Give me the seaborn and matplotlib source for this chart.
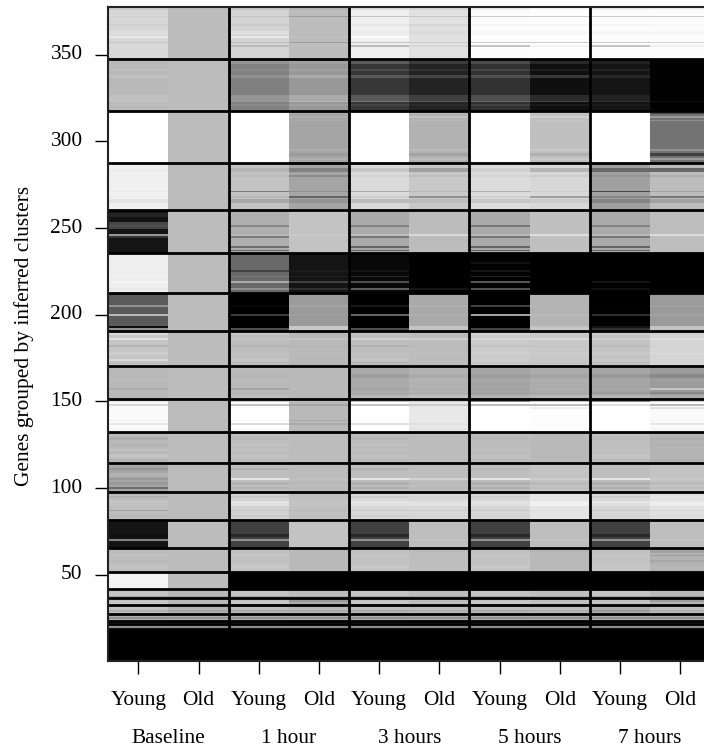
import numpy as np
import pandas as pd
import seaborn as sns
import matplotlib
matplotlib.use('Agg')
import matplotlib.pyplot as plt

# gene counts per inferred cluster, top of the heatmap first
cluster_sizes = [30, 30, 30, 27, 25, 23, 22, 20, 19, 19, 18, 17, 16, 16, 14, 10, 5, 4, 5, 4, 2, 3, 18]
arms = ['Young', 'Old'] * 5
timepoints = ['Baseline', '1 hour', '3 hours', '5 hours', '7 hours']
gene_ticks = [50, 100, 150, 200, 250, 300, 350]

# grey level of each cluster per column (0 black, 255 white)
cluster_base = [
    [215, 188, 212, 188, 240, 225, 252, 253, 252, 252],
    [185, 188, 128, 152, 55, 35, 50, 15, 20, 2],
    [255, 188, 255, 165, 255, 178, 255, 192, 255, 115],
    [240, 188, 195, 165, 218, 200, 220, 215, 160, 188],
    [20, 188, 175, 195, 170, 188, 170, 192, 170, 190],
    [238, 188, 105, 20, 8, 0, 2, 0, 0, 0],
    [90, 188, 0, 155, 0, 170, 0, 180, 0, 155],
    [198, 188, 190, 185, 190, 188, 203, 200, 195, 213],
    [185, 188, 185, 185, 170, 178, 165, 172, 165, 155],
    [250, 188, 255, 185, 255, 232, 255, 253, 255, 250],
    [185, 188, 190, 188, 188, 188, 188, 185, 190, 180],
    [165, 188, 190, 188, 190, 190, 190, 195, 190, 195],
    [190, 188, 210, 192, 215, 215, 215, 228, 215, 225],
    [20, 188, 65, 195, 65, 190, 65, 190, 65, 190],
    [190, 188, 195, 185, 195, 190, 195, 185, 195, 178],
    [245, 188, 0, 0, 0, 0, 0, 0, 0, 0],
    [195, 185, 195, 188, 195, 188, 195, 190, 195, 185],
    [200, 185, 200, 172, 200, 190, 200, 192, 195, 180],
    [195, 180, 190, 185, 190, 190, 190, 190, 175, 190],
    [175, 175, 175, 175, 175, 175, 175, 175, 175, 175],
    [110, 110, 110, 110, 110, 110, 110, 110, 110, 110],
    [140, 140, 140, 140, 140, 140, 140, 140, 140, 140],
    [0, 0, 0, 0, 0, 0, 0, 0, 0, 0],
]

# bands of genes inside each cluster: first row, number of rows, shift per column
cluster_bands = [
    [(0, 2, [-10, 0, -15, -5, -20, -10, -15, -5, -15, -8]),
     (5, 1, [-8, 0, -15, -30, -45, -25, -50, -50, -50, -50]),
     (10, 1, [-8, 0, -10, 0, -10, -12, -8, -8, -8, -5]),
     (14, 2, [8, 0, 10, 0, -5, -5, -5, -5, -5, -5]),
     (17, 1, [20, 0, 22, 3, 12, 0, 3, 2, 0, 0]),
     (20, 1, [-15, 0, -25, -30, -45, -22, -50, -50, -50, -40]),
     (22, 1, [3, 0, -25, 3, -55, -10, -55, -10, -55, -12])],
    [(0, 3, [0, 0, 20, 8, 35, 25, 25, 25, 12, 0]),
     (6, 1, [5, 0, 10, 10, 20, 15, 20, 15, 15, 0]),
     (9, 2, [8, 0, 15, 18, 35, 35, 30, 40, 20, 0]),
     (21, 3, [8, 0, 20, 18, 35, 28, 28, 28, 15, 0]),
     (24, 1, [12, 0, 25, 30, 65, 55, 50, 55, 28, 12]),
     (26, 1, [5, 0, 10, 10, 15, 10, 15, 10, 5, 0])],
    [(0, 1, [0, 0, 0, 8, 0, 12, 0, 12, 0, 25]),
     (1, 1, [0, 0, 0, 5, 0, 5, 0, 5, 0, -40]),
     (3, 1, [0, 0, 0, 10, 0, 15, 0, 15, 0, 40]),
     (5, 1, [0, 0, 0, 5, 0, 5, 0, 5, 0, 25]),
     (22, 1, [0, 0, 0, 8, 0, 8, 0, 8, 0, 30]),
     (24, 2, [0, 0, 0, -10, 0, -15, 0, -15, 0, -50]),
     (27, 1, [0, 0, 0, 10, 0, 10, 0, 10, 0, 40])],
    [(0, 1, [5, 0, 5, 0, 5, 0, 5, 0, -25, -5]),
     (3, 2, [-3, 0, -15, -35, -20, -40, -12, -35, -55, -85]),
     (7, 1, [-3, 0, -8, -25, -8, -12, -8, -12, -10, -15]),
     (16, 1, [-8, 0, -70, -20, -50, -15, -45, -12, -90, -25]),
     (19, 1, [-3, 0, -12, -65, -12, -55, -12, -55, -25, -70]),
     (21, 2, [-12, 0, -28, -18, -30, -12, -22, -12, -28, -28])],
    [(2, 2, [15, 0, 0, 0, 0, 0, 0, 0, 0, 0]),
     (7, 4, [50, 0, 0, 0, 0, 0, 0, 0, 0, 0]),
     (9, 1, [10, 0, -40, 0, -40, 0, -50, 0, -40, 0]),
     (14, 1, [130, 0, 8, 5, 20, 30, 15, 30, 15, 30]),
     (15, 1, [30, 0, -50, 0, -50, 0, -50, 0, -50, 0]),
     (21, 1, [0, 0, -65, 0, -70, 0, -70, 0, -70, 0]),
     (23, 1, [0, 0, -70, 0, -70, 0, -70, 0, -70, 0])],
    [(5, 1, [0, 0, 0, 0, 0, 0, 15, 0, 0, 0]),
     (10, 1, [0, 0, -40, 8, 12, 0, 20, 0, 0, 0]),
     (13, 1, [5, 0, 15, 12, 35, 0, 35, 0, 0, 0]),
     (16, 1, [6, 0, 65, 45, 70, 0, 85, 0, 20, 0]),
     (20, 1, [-5, 0, 40, 28, 85, 20, 80, 0, 18, 0])],
    [(7, 1, [55, 0, 8, 8, 25, 5, 65, 3, 3, 5]),
     (12, 1, [95, 0, 60, 3, 100, 5, 160, 5, 45, 8]),
     (19, 1, [-75, 0, 0, 45, 0, 25, 0, 15, 20, 40]),
     (20, 2, [55, 0, 80, 45, 80, 25, 70, 20, 50, 40])],
    [(0, 2, [15, 0, 10, -3, 3, 0, 8, 0, 8, -3]),
     (4, 1, [25, 0, 8, 10, 20, 18, 10, 18, 10, 10]),
     (8, 1, [-18, 0, -10, -3, -12, -3, -10, -3, -8, -3]),
     (12, 2, [6, 0, 3, 2, 3, 2, 3, 3, 6, 3]),
     (16, 1, [18, 0, 10, 0, 10, 0, 3, 0, 6, 0]),
     (18, 1, [-8, 0, -3, -3, -6, 0, -3, -3, -3, 0])],
    [(5, 2, [0, 0, -3, 0, -12, -8, -8, -8, -12, -18]),
     (8, 1, [6, 0, 4, 0, -3, 3, 3, 3, 3, 8]),
     (13, 1, [-12, 0, -20, 0, -8, -3, -3, 3, 3, 40]),
     (15, 1, [0, 0, 0, 0, 0, -3, -3, -3, -8, -18]),
     (17, 2, [0, 0, 5, 0, 12, 12, 12, 12, 15, 15])],
    [(1, 1, [-25, 0, -55, 0, -65, -30, -125, -60, -125, -40]),
     (3, 1, [-35, 0, -60, -20, -60, -30, -65, -65, -30, -65]),
     (5, 1, [0, 0, 0, 0, 0, 0, 0, -15, 0, -25]),
     (12, 1, [-10, 0, -10, -15, 0, 0, 0, 0, 0, -5]),
     (14, 1, [-20, 0, -35, -15, -30, -8, 0, 0, 0, -20]),
     (17, 1, [-5, 0, -5, 0, 0, -5, 0, 0, 0, -5])],
    [(3, 2, [-12, 0, -6, 0, -6, 0, -4, 0, -4, -6]),
     (7, 1, [-6, 0, 4, 0, 4, 0, 2, 0, 2, -4]),
     (10, 1, [8, 0, 4, 0, 4, 0, 4, 0, 4, 0]),
     (13, 2, [10, 0, 4, 0, 4, 0, 4, -2, 6, 0]),
     (16, 1, [-6, 0, -2, 0, -4, 0, -2, 0, -2, -4])],
    [(0, 1, [25, 0, 0, 0, 0, 0, 0, 0, 0, 0]),
     (3, 1, [-15, 0, -15, 0, -12, 0, -5, 0, -3, 0]),
     (6, 2, [12, 0, 0, 0, 0, 0, 0, 0, 0, 0]),
     (9, 1, [-12, 0, 40, 5, 40, 20, 40, 10, 40, 5]),
     (11, 2, [-10, 0, -12, -3, -15, -3, -15, -10, -15, -8]),
     (14, 1, [-55, 0, -12, -3, -15, -5, -15, -3, -15, -6])],
    [(2, 1, [-12, 0, -8, 0, -12, -3, -8, 0, -12, 3]),
     (5, 1, [6, 0, 18, 3, 15, 10, 12, 12, 15, 10]),
     (6, 2, [3, 0, 15, 3, 10, 12, 8, 12, 8, 12]),
     (10, 1, [-25, 0, -12, -6, -15, -10, -15, -4, -15, -10]),
     (13, 1, [-6, 0, -8, -2, -8, -3, -4, 0, -4, -4])],
    [(0, 1, [0, 0, 60, 0, 60, 0, 60, 0, 60, 0]),
     (8, 2, [-5, 0, -25, 0, -25, 0, -25, 0, -25, 0]),
     (11, 1, [110, 0, 80, 0, 80, 5, 80, 5, 80, 5])],
    [(1, 2, [-5, 0, -3, 0, -3, -3, -3, -3, -3, -15]),
     (4, 1, [5, 0, 5, 0, 3, 0, 3, 0, 3, -20]),
     (7, 1, [-5, 0, -5, 0, 0, 0, 0, 0, 0, -10]),
     (10, 2, [5, 0, 5, 0, 5, 0, 5, 0, 3, 5])],
    [(0, 1, [3, 0, 0, 0, 0, 0, 0, 0, 0, 0])],
    [(4, 1, [-30, -25, -30, -25, -30, -25, -30, -25, -30, -30])],
    [(1, 1, [-5, 0, -3, -20, -3, 0, -3, 0, -3, -25])],
    [(3, 1, [-20, -15, -20, -15, -20, -15, -20, -15, -20, -15])],
    [(2, 1, [-30, -25, -30, -25, -30, -25, -30, -25, -30, -30])],
    [],
    [(2, 1, [60, 60, 60, 60, 60, 60, 60, 60, 60, 60])],
    [],
]

levels = np.repeat(np.array(cluster_base, dtype=float), cluster_sizes, axis=0)
edges = np.cumsum([0] + cluster_sizes)
for top, bands in zip(edges, cluster_bands):
    for first, count, shift in bands:
        levels[top + first:top + first + count] += shift
levels = np.clip(levels, 0, 255)

n_genes = levels.shape[0]
df = pd.DataFrame(levels, columns=range(len(arms)))

plt.rcParams['font.family'] = ['Liberation Serif', 'DejaVu Serif']
fig = plt.figure(figsize=(7.04, 7.48), dpi=100)
ax = fig.add_axes([108.2 / 704, 1 - 660.5 / 748, 602 / 704, 653.5 / 748])
sns.heatmap(df, cmap='gray', vmin=0, vmax=255, cbar=False, ax=ax)

# cluster separators and time point separators
ax.hlines(edges[1:-1], 0, len(arms), color='black', lw=2)
ax.vlines([2, 4, 6, 8], 0, edges[-2], color='black', lw=2)
for side, spine in ax.spines.items():
    spine.set_visible(True)
    spine.set_color('#222222')
    spine.set_linewidth(1.5)

ax.set_xticks(np.arange(len(arms)) + 0.5)
ax.set_xticklabels(arms, rotation=0)
ax.set_yticks([n_genes - g + 0.5 for g in gene_ticks])
ax.set_yticklabels(gene_ticks, rotation=0)
ax.tick_params(axis='x', length=9.4, width=1, labelsize=15.4, pad=12.5)
ax.tick_params(axis='y', length=9.4, width=1, labelsize=15.4, pad=9)
for i, name in enumerate(timepoints):
    ax.text(2 * i + 1, -0.1195, name, transform=ax.get_xaxis_transform(),
            ha='center', va='center', fontsize=15.4)
ax.set_xlabel('')
ax.set_ylabel('Genes grouped by inferred clusters', fontsize=15.4)
ax.yaxis.set_label_coords((34 - 108.2) / 602, (660.5 - 336) / 653.5)

fig.savefig('out.png', dpi=100)
